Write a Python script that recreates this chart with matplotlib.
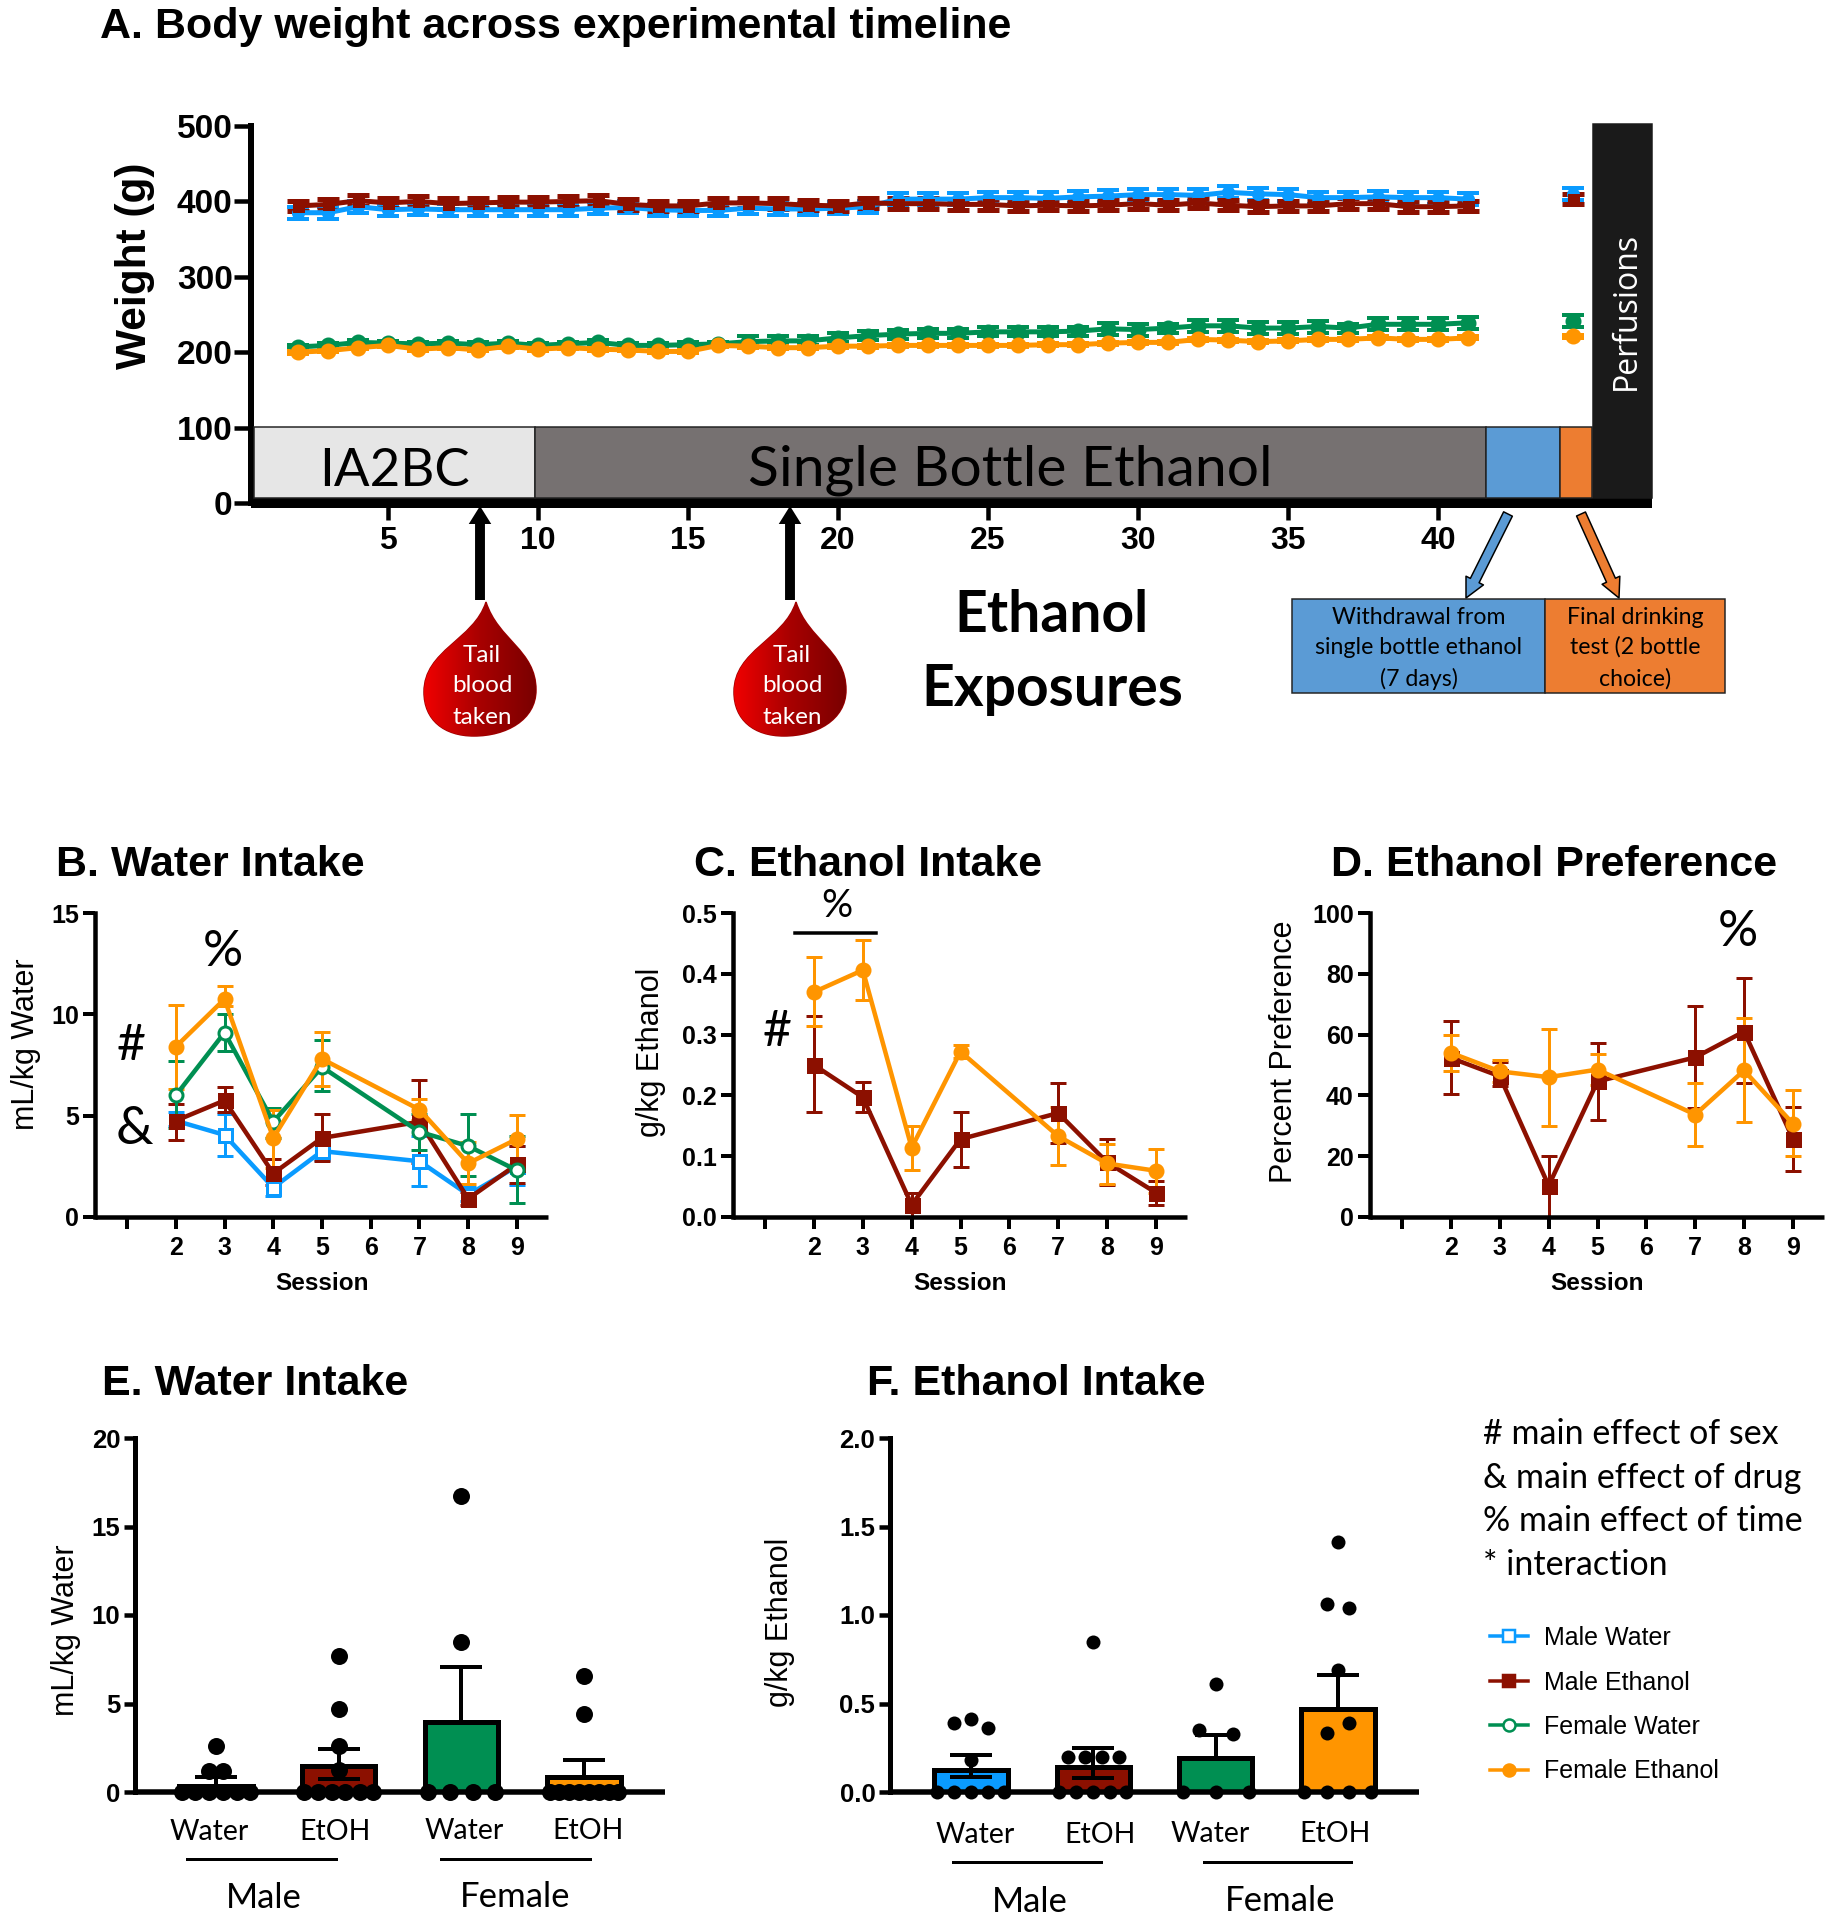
import numpy as np
import matplotlib
matplotlib.use("Agg")
import matplotlib.pyplot as plt
from matplotlib.lines import Line2D
from matplotlib.patches import FancyArrowPatch, PathPatch, Rectangle
from matplotlib.path import Path

W, H = 1833, 1920
SANS = "Liberation Sans"
BODY = "Lato"
BLUE = "#0a9bff"
MAROON = "#8c1000"
GREEN = "#008f52"
ORANGE = "#ff9500"

# Panel A, weight per exposure
exposures = list(range(2, 42))
last_x = 44.5
mw_weight = [385, 385, 393, 389, 390, 389, 389, 389, 389, 389, 391, 392, 389, 388, 388, 391, 390, 390, 391, 393,
             403, 403, 403, 405, 405, 404, 406, 407, 409, 409, 408, 412, 410, 409, 405, 405, 406, 405, 405, 403]
me_weight = [394, 396, 401, 398, 400, 397, 398, 399, 399, 400, 401, 396, 394, 394, 398, 398, 397, 395, 394, 398,
             397, 397, 396, 396, 394, 395, 394, 395, 397, 395, 398, 395, 393, 394, 394, 397, 397, 393, 393, 394]
fw_weight = [207, 209, 213, 212, 211, 212, 210, 212, 209, 211, 213, 209, 209, 210, 211, 214, 215, 215, 219, 222,
             224, 225, 225, 227, 227, 227, 228, 231, 230, 232, 235, 235, 232, 232, 234, 232, 237, 237, 237, 239]
fe_weight = [200, 202, 206, 209, 204, 206, 203, 208, 204, 206, 204, 203, 201, 201, 209, 208, 206, 206, 208, 208,
             209, 209, 209, 209, 209, 210, 210, 212, 213, 213, 217, 216, 214, 215, 217, 217, 219, 217, 217, 219]
fw_err = [3, 3, 3, 3, 3, 3, 3, 3, 3, 3, 3, 3, 3, 3, 3, 8, 6, 6, 6, 6,
          6, 6, 6, 6, 6, 6, 6, 8, 8, 6, 8, 8, 8, 8, 8, 6, 8, 8, 8, 8]
last_weight = {"mw": 410, "me": 403, "fw": 241, "fe": 221}
weight_err = {"mw": 8, "me": 7, "fw": fw_err, "fe": 2}
last_err = {"mw": 8, "me": 7, "fw": 8, "fe": 2}

# Panels B to D, sessions
sessions = [2, 3, 4, 5, 7, 8, 9]
session_ticks = [1, 2, 3, 4, 5, 6, 7, 8, 9]
session_labels = ["", "2", "3", "4", "5", "6", "7", "8", "9"]

b_mw = [4.75, 4.05, 1.45, 3.25, 2.75, 1.1, 2.5]
b_mw_hi = [5.2, 5.1, 1.85, 3.6, 4.0, 1.5, 3.5]
b_mw_lo = [4.5, 3.0, 1.05, 2.8, 1.55, 0.8, 1.6]
b_me = [4.75, 5.75, 2.15, 3.9, 4.7, 0.9, 2.6]
b_me_hi = [5.6, 6.4, 2.85, 5.1, 6.75, 1.25, 3.5]
b_me_lo = [3.8, 5.2, 1.6, 2.75, 2.65, 0.6, 1.7]
b_fw = [6.0, 9.1, 4.7, 7.4, 4.2, 3.5, 2.3]
b_fw_hi = [7.7, 10.0, 5.4, 8.75, 5.1, 5.1, 4.0]
b_fw_lo = [4.4, 8.2, 3.9, 6.2, 3.3, 2.0, 0.7]
b_fe = [8.4, 10.75, 3.9, 7.8, 5.3, 2.65, 3.85]
b_fe_hi = [10.45, 11.4, 5.3, 9.15, 5.8, 3.7, 5.05]
b_fe_lo = [6.3, 10.4, 2.4, 6.45, 4.8, 1.65, 2.6]

c_me = [0.25, 0.197, 0.02, 0.128, 0.171, 0.09, 0.04]
c_me_hi = [0.33, 0.222, 0.04, 0.173, 0.221, 0.129, 0.059]
c_me_lo = [0.173, 0.173, 0.0, 0.083, 0.122, 0.053, 0.02]
c_fe = [0.37, 0.406, 0.114, 0.272, 0.133, 0.088, 0.076]
c_fe_hi = [0.428, 0.455, 0.15, 0.283, 0.181, 0.12, 0.112]
c_fe_lo = [0.314, 0.357, 0.078, 0.262, 0.085, 0.054, 0.04]

d_me = [52.3, 46.3, 10.3, 44.6, 52.5, 61, 25.7]
d_me_hi = [64.6, 51, 20, 57.2, 69.3, 78.6, 36.3]
d_me_lo = [40.4, 43.2, 0, 31.8, 35.9, 44, 15.2]
d_fe = [54, 47.9, 46, 48.5, 33.7, 48.2, 30.7]
d_fe_hi = [60, 51.8, 62, 53.5, 44, 65.4, 41.7]
d_fe_lo = [48.1, 44.4, 30, 43.5, 23.2, 31.1, 20]

# Panels E and F, bars and animals
bar_colors = [BLUE, MAROON, GREEN, ORANGE]
e_means = [0.36, 1.46, 3.96, 0.86]
e_hi = [0.85, 2.45, 7.05, 1.83]
e_lo = [None, 0.75, None, None]
e_x = [[-.28, -.17, -.055, .055, .17, .28, -.06, .06, 0],
       [-.28, -.17, -.055, .055, .17, .28, 0, 0, 0, 0],
       [-.275, -.093, .093, .275, 0, 0],
       [-.28, -.2, -.12, -.04, .04, .12, .2, .28, 0, 0]]
e_y = [[0, 0, 0, 0, 0, 0, 1.2, 1.2, 2.6],
       [0, 0, 0, 0, 0, 0, 1.25, 2.6, 4.7, 7.7],
       [0, 0, 0, 0, 8.5, 16.7],
       [0, 0, 0, 0, 0, 0, 0, 0, 4.4, 6.55]]

f_means = [0.126, 0.143, 0.193, 0.471]
f_hi = [0.21, 0.25, 0.32, 0.66]
f_lo = [0.085, 0.08, None, None]
f_x = [[-.28, -.14, 0, .14, .27, -.14, 0, .14, 0],
       [-.28, -.14, 0, .14, .27, -.21, -.07, .07, .21, 0],
       [-.27, 0, .27, -.135, .14, 0],
       [-.28, -.09, .09, .27, -.09, .09, 0, .09, -.09, 0]]
f_y = [[0, 0, 0, 0, 0, .39, .41, .36, .18],
       [0, 0, 0, 0, 0, .2, .2, .2, .2, .85],
       [0, 0, 0, .35, .325, .61],
       [0, 0, 0, 0, .335, .39, .69, 1.04, 1.06, 1.41]]


def px(v):
    # pixels to points at dpi 100
    return v * 0.72


def add_ax(left, top, right, bottom):
    ax = fig.add_axes([left / W, 1 - bottom / H, (right - left) / W, (bottom - top) / H])
    ax.patch.set_alpha(0)
    ax.spines[["top", "right"]].set_visible(False)
    return ax


def style_axis(ax, lw_left, lw_bottom, ticklen, tickw, size):
    ax.spines["left"].set_linewidth(px(lw_left))
    ax.spines["bottom"].set_linewidth(px(lw_bottom))
    ax.spines["left"].set_capstyle("projecting")
    ax.spines["bottom"].set_capstyle("butt")
    ax.tick_params(axis="both", length=px(ticklen), width=px(tickw), labelsize=size, pad=3)
    for lab in ax.get_xticklabels() + ax.get_yticklabels():
        lab.set_fontfamily(SANS)
        lab.set_fontweight("bold")


def draw_series(ax, x, y, lo, hi, color, marker, filled=True, ms=13, lw=4.5):
    y = np.array(y, dtype=float)
    yerr = [y - np.array(lo), np.array(hi) - y]
    ax.errorbar(x, y, yerr=yerr, color=color, lw=px(lw), elinewidth=px(3), capsize=px(8), capthick=px(3),
                marker=marker, ms=px(ms), mew=px(3),
                mfc=color if filled else "white", mec=color, clip_on=False)


def session_panel(left, top, right, bottom, ymax, yticks, ytlabels):
    ax = add_ax(left, top, right, bottom)
    ax.set_xlim(1 - (session_px[0]) / session_px[1], 9 + session_px[2] / session_px[1])
    ax.set_ylim(0, ymax)
    ax.set_xticks(session_ticks, session_labels)
    ax.set_yticks(yticks, ytlabels)
    style_axis(ax, 4.5, 4.5, 12, 4, 18)
    ax.tick_params(axis="x", pad=5)
    return ax


def bar_panel(left, top, right, bottom, means, hi, lo, xs, ys, ymax, yticks, ytlabels, ms):
    ax = add_ax(left, top, right, bottom)
    ax.set_xlim(*bar_xlim)
    ax.set_ylim(0, ymax)
    pos = [1, 2, 3, 4]
    ax.bar(pos, means, width=0.6, color=bar_colors, edgecolor="black", linewidth=px(5), zorder=2)
    for i, p in enumerate(pos):
        low = lo[i] if lo[i] is not None else means[i]
        ax.errorbar([p], [means[i]], yerr=[[means[i] - low], [hi[i] - means[i]]], color="black",
                    elinewidth=px(4), capsize=px(21), capthick=px(4), zorder=3, fmt="none")
        ax.plot(np.array(xs[i]) + p, ys[i], "o", color="black", ms=px(ms), mew=0, clip_on=False, zorder=4)
    ax.set_xticks([])
    ax.set_yticks(yticks, ytlabels)
    style_axis(ax, 5, 5.5, 11, 4.5, 18.5)
    return ax


plt.rcParams["font.family"] = [SANS, "DejaVu Sans"]
fig = plt.figure(figsize=(W / 100, H / 100), dpi=100, facecolor="white")

# Panel A
ax_a = add_ax(251, 126, 1652, 503)
ax_a.set_xlim(0.43, 47.13)
ax_a.set_ylim(0, 500)
ax_a.set_xticks([5, 10, 15, 20, 25, 30, 35, 40])
ax_a.set_yticks([0, 100, 200, 300, 400, 500])
style_axis(ax_a, 6, 10, 17, 4.5, 24)
ax_a.tick_params(axis="y", pad=1)
ax_a.tick_params(axis="x", length=px(17), labelsize=23, pad=4)
# mew also sets the cap thickness in errorbar, so the marker is ms + mew across
for key, vals, color, marker, ms, capw in [("mw", mw_weight, BLUE, "o", 13, 4), ("me", me_weight, MAROON, "s", 12, 5),
                                           ("fw", fw_weight, GREEN, "o", 16, 4), ("fe", fe_weight, ORANGE, "o", 16, 4)]:
    ax_a.errorbar(exposures, vals, yerr=weight_err[key], color=color, lw=px(5), elinewidth=px(4), capsize=px(11),
                  capthick=px(capw), marker=marker, ms=px(ms - capw), mew=px(capw))
    ax_a.errorbar([last_x], [last_weight[key]], yerr=last_err[key], color=color, elinewidth=px(4), capsize=px(11),
                  capthick=px(capw), marker=marker, ms=px(ms - capw), mew=px(capw))

# Panels B, C, D
session_px = (32, 48.7, 31)
ax_b = session_panel(95, 913, 548, 1217, 15, [0, 5, 10, 15], ["0", "5", "10", "15"])
draw_series(ax_b, sessions, b_mw, b_mw_lo, b_mw_hi, BLUE, "s", filled=False)
draw_series(ax_b, sessions, b_me, b_me_lo, b_me_hi, MAROON, "s")
draw_series(ax_b, sessions, b_fw, b_fw_lo, b_fw_hi, GREEN, "o", filled=False)
draw_series(ax_b, sessions, b_fe, b_fe_lo, b_fe_hi, ORANGE, "o")

ax_c = session_panel(733, 913, 1187, 1217, 0.5, [0, .1, .2, .3, .4, .5], ["0.0", "0.1", "0.2", "0.3", "0.4", "0.5"])
draw_series(ax_c, sessions, c_me, c_me_lo, c_me_hi, MAROON, "s")
draw_series(ax_c, sessions, c_fe, c_fe_lo, c_fe_hi, ORANGE, "o")

ax_d = session_panel(1370, 913, 1824, 1217, 100, [0, 20, 40, 60, 80, 100], ["0", "20", "40", "60", "80", "100"])
draw_series(ax_d, sessions, d_me, d_me_lo, d_me_hi, MAROON, "s")
draw_series(ax_d, sessions, d_fe, d_fe_lo, d_fe_hi, ORANGE, "o")

# Panels E, F
bar_xlim = (0.344, 4.66)
bar_panel(135.5, 1438, 665, 1792, e_means, e_hi, e_lo, e_x, e_y, 20,
          [0, 5, 10, 15, 20], ["0", "5", "10", "15", "20"], 17)
bar_panel(890.5, 1438, 1419, 1792, f_means, f_hi, f_lo, f_x, f_y, 2.0,
          [0, .5, 1, 1.5, 2], ["0.0", "0.5", "1.0", "1.5", "2.0"], 14)

# everything else sits on a full figure layer in pixel coordinates
top = fig.add_axes([0, 0, 1, 1], zorder=10)
top.set_xlim(0, W)
top.set_ylim(H, 0)
top.axis("off")


def txt(x, y, s, size, family=BODY, weight="normal", color="black", rotation=0, ha="center"):
    top.text(x, y, s, fontsize=size, family=family, fontweight=weight, color=color,
             rotation=rotation, ha=ha, va="center")


def rect(x0, y0, x1, y1, color, edge="#222222"):
    top.add_patch(Rectangle((x0, y0), x1 - x0, y1 - y0, facecolor=color, edgecolor=edge, linewidth=px(1.5)))


# titles
for x, y, s in [(100, 27, "A. Body weight across experimental timeline"), (56, 865, "B. Water Intake"),
                (694, 865, "C. Ethanol Intake"), (1331, 865, "D. Ethanol Preference"),
                (102, 1384, "E. Water Intake"), (867, 1384, "F. Ethanol Intake")]:
    txt(x, y, s, 31, SANS, "bold", ha="left")

# timeline bands
rect(254, 427, 535, 498, "#e6e6e6")
rect(535, 427, 1486, 498, "#767171")
rect(1486, 427, 1560, 498, "#5b9bd5")
rect(1560, 427, 1592, 498, "#ed7d31")
rect(1593, 124, 1652, 498, "#1a1a1a", edge="#1a1a1a")
txt(394, 471, "IA2BC", 38)
txt(1010, 470, "Single Bottle Ethanol", 41)
txt(1626, 311, "Perfusions", 23, "Open Sans", color="white", rotation=90)
txt(135, 266, "Weight (g)", 30.5, SANS, "bold", rotation=90)

# blood drops and arrows
for tip, cx in [(486, 482), (796, 792)]:
    top.add_patch(FancyArrowPatch((tip - 6, 600), (tip - 6, 506),
                                  arrowstyle="simple,head_width=1.25,head_length=1.0,tail_width=0.55",
                                  mutation_scale=px(18), color="black", lw=0, shrinkA=0, shrinkB=0))
    left, right = tip - 62, tip + 50
    verts = [(tip, 602), (tip + 12, 640), (right, 650), (right, 690), (right, 720), (tip + 20, 736), (tip - 12, 736),
             (tip - 42, 736), (left, 720), (left, 692), (left, 650), (tip - 12, 640), (tip, 602), (tip, 602)]
    codes = [Path.MOVETO] + [Path.CURVE4] * 12 + [Path.CLOSEPOLY]
    drop = PathPatch(Path(verts, codes), facecolor="none", edgecolor="#a00000", lw=px(1.5), transform=top.transData)
    top.add_patch(drop)
    grad = np.linspace(0, 1, 120).reshape(1, -1)
    cmap = matplotlib.colors.LinearSegmentedColormap.from_list("drop", ["#f00000", "#a80000", "#7a0000"])
    im = top.imshow(grad, cmap=cmap, extent=(left, right, 736, 602), aspect="auto", zorder=1)
    im.set_clip_path(drop)
    top.set_xlim(0, W)
    top.set_ylim(H, 0)
    for y, s in [(655, "Tail"), (685, "blood"), (717, "taken")]:
        txt(cx, y, s, 17.5, color="white")

txt(1052, 615, "Ethanol", 41, BODY, "bold")
txt(1052, 689, "Exposures", 41, BODY, "bold")

# explanation boxes
for p0, p1, col in [((1508, 514), (1466, 598), "#5b9bd5"), ((1581, 514), (1619, 598), "#ed7d31")]:
    top.add_patch(FancyArrowPatch(p0, p1, arrowstyle="simple,head_width=1.5,head_length=1.5,tail_width=0.75",
                                  mutation_scale=px(13), facecolor=col, edgecolor="black", lw=px(1.5),
                                  shrinkA=0, shrinkB=0))
rect(1292, 599, 1545, 693, "#5b9bd5")
rect(1545, 599, 1725, 693, "#ed7d31")
for y, s in [(618, "Withdrawal from"), (647, "single bottle ethanol"), (679, "(7 days)")]:
    txt(1419, y, s, 16.7)
for y, s in [(618, "Final drinking"), (647, "test (2 bottle"), (679, "choice)")]:
    txt(1635, y, s, 16.7)

# axis titles for the small panels
txt(26, 1044, "mL/kg Water", 22, SANS, rotation=90)
txt(651, 1052, "g/kg Ethanol", 22, SANS, rotation=90)
txt(1284, 1052, "Percent Preference", 22, SANS, rotation=90)
txt(66, 1630, "mL/kg Water", 22, SANS, rotation=90)
txt(780, 1622, "g/kg Ethanol", 22, SANS, rotation=90)
for x in [322, 960, 1597]:
    txt(x, 1284, "Session", 17.5, SANS, "bold")

# significance marks
txt(223, 952, "%", 36)
txt(131, 1046, "#", 36)
txt(134, 1129, "&", 38)
txt(837, 906, "%", 28)
top.plot([795, 876], [933, 933], color="black", lw=px(3.5))
txt(777, 1032, "#", 36)
txt(1738, 932, "%", 36)

# bar group labels
for x, y, s in [(209, 1832, "Water"), (335, 1832, "EtOH"), (464, 1831, "Water"), (588, 1831, "EtOH"),
                (975, 1835, "Water"), (1100, 1835, "EtOH"), (1210, 1834, "Water"), (1335, 1834, "EtOH")]:
    txt(x, y, s, 20.5)
for x0, x1, y in [(187, 336, 1859), (441, 590, 1859), (953, 1101, 1862), (1204, 1351, 1862)]:
    top.plot([x0, x1], [y, y], color="black", lw=px(3))
for x, y, s in [(264, 1898, "Male"), (515, 1897, "Female"), (1030, 1902, "Male"), (1280, 1901, "Female")]:
    txt(x, y, s, 25)

# key
for y, s in [(1434, "# main effect of sex"), (1478, "& main effect of drug"),
             (1521, "% main effect of time"), (1565, "* interaction")]:
    txt(1483, y, s, 24.5, ha="left")

handles = [Line2D([], [], color=BLUE, lw=px(3.5), marker="s", ms=px(12), mew=px(2.5), mfc="white", mec=BLUE),
           Line2D([], [], color=MAROON, lw=px(3.5), marker="s", ms=px(12), mew=px(2.5), mfc=MAROON, mec=MAROON),
           Line2D([], [], color=GREEN, lw=px(3.5), marker="o", ms=px(12), mew=px(2.5), mfc="white", mec=GREEN),
           Line2D([], [], color=ORANGE, lw=px(3.5), marker="o", ms=px(12), mew=px(2.5), mfc=ORANGE, mec=ORANGE)]
fig.legend(handles, ["Male Water", "Male Ethanol", "Female Water", "Female Ethanol"], loc="upper left",
           bbox_to_anchor=(1490 / W, 1 - 1626 / H), frameon=False, fontsize=18, labelspacing=0.82,
           handlelength=1.5, handletextpad=0.68, borderpad=0, borderaxespad=0)

fig.savefig("out.png", dpi=100, facecolor="white")
